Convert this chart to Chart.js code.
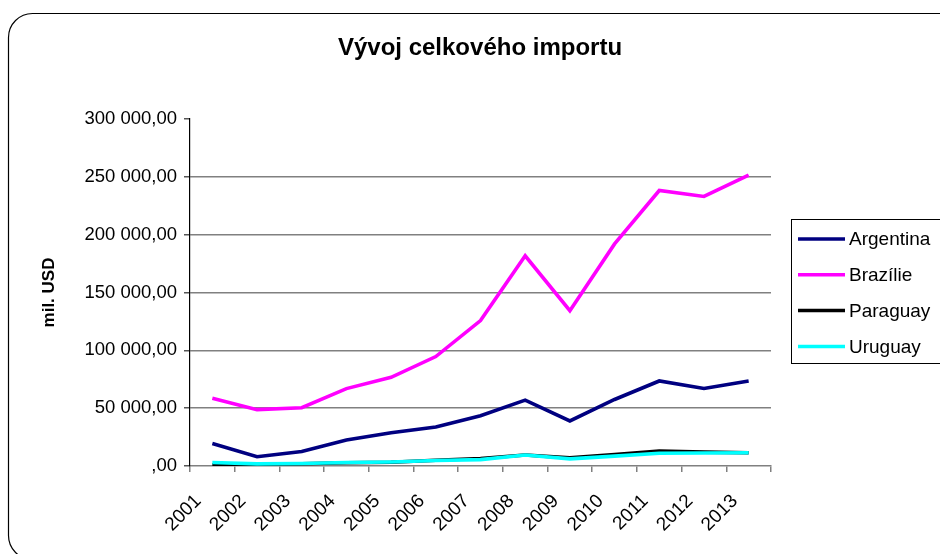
<!DOCTYPE html>
<html>
<head>
<meta charset="utf-8">
<script src="https://cdn.jsdelivr.net/npm/chart.js@4.4.1/dist/chart.umd.min.js"></script>
<style>
  html, body { margin: 0; padding: 0; background: #fff; }
  #wrap { width: 940px; height: 554px; position: relative; }
</style>
</head>
<body>
<div id="wrap"><canvas id="c" width="940" height="554"></canvas></div>
<script>
const years = ['2001','2002','2003','2004','2005','2006','2007','2008','2009','2010','2011','2012','2013'];
const argentina = [19500, 8000, 12500, 22500, 28800, 33700, 43500, 57000, 39000, 57500, 73500, 67000, 73500];
const brazil = [58500, 48700, 50400, 66900, 76700, 94600, 125700, 181700, 134300, 192000, 238200, 233000, 251500];
const paraguay = [1000, 1500, 2000, 2800, 3300, 5000, 6500, 9500, 7000, 10000, 13000, 12000, 11500];
const uruguay = [3000, 1800, 2100, 3000, 3500, 4700, 5500, 9500, 6200, 8500, 11000, 11300, 11500];
const yTicks = [0, 50000, 100000, 150000, 200000, 250000, 300000];

function fmt(v) {
  if (v === 0) return ',00';
  const s = String(Math.round(v)).replace(/\B(?=(\d{3})+(?!\d))/g, ' ');
  return s + ',00';
}

const frame = {
  id: 'frame',
  beforeDraw(chart) {
    const ctx = chart.ctx;
    ctx.save();
    ctx.fillStyle = '#fff';
    ctx.fillRect(0, 0, chart.width, chart.height);
    ctx.strokeStyle = '#000';
    ctx.lineWidth = 1.2;
    ctx.beginPath();
    ctx.roundRect(8.5, 13.5, 980, 546, 24);
    ctx.stroke();
    ctx.restore();
  },
  afterDraw(chart) {
    const ctx = chart.ctx;
    ctx.save();
    ctx.strokeStyle = '#000';
    ctx.lineWidth = 1;
    ctx.strokeRect(791.5, 219.5, 200, 144);
    const ds = chart.data.datasets;
    ctx.font = '19px "Liberation Sans", Arial, sans-serif';
    ctx.textBaseline = 'middle';
    ctx.textAlign = 'left';
    ds.forEach((d, i) => {
      const y = 239 + i * 35.8;
      ctx.strokeStyle = d.borderColor;
      ctx.lineWidth = 3.5;
      ctx.beginPath();
      ctx.moveTo(798, y);
      ctx.lineTo(845, y);
      ctx.stroke();
      ctx.fillStyle = '#000';
      ctx.fillText(d.label, 849, y + 1);
    });
    ctx.restore();
  }
};

new Chart(document.getElementById('c'), {
  type: 'line',
  data: {
    labels: years,
    datasets: [
      { label: 'Argentina', data: argentina, borderColor: '#000080', order: 2 },
      { label: 'Brazílie', data: brazil, borderColor: '#FF00FF', order: 3 },
      { label: 'Paraguay', data: paraguay, borderColor: '#000000', order: 1 },
      { label: 'Uruguay', data: uruguay, borderColor: '#00FFFF', order: 0 }
    ]
  },
  options: {
    responsive: false,
    animation: false,
    events: [],
    layout: { padding: { left: 20, right: 0, top: 0, bottom: 0 } },
    elements: {
      line: { borderWidth: 3.6, tension: 0, fill: false },
      point: { radius: 0 }
    },
    plugins: {
      legend: { display: false },
      tooltip: { enabled: false },
      title: {
        display: true,
        text: 'Vývoj celkového importu',
        color: '#000',
        font: { family: '"Liberation Sans", Arial, sans-serif', size: 24, weight: 'bold', lineHeight: 1 },
        padding: { top: 36, bottom: 59 }
      }
    },
    scales: {
      x: {
        type: 'category',
        offset: true,
        border: { color: '#808080', width: 1.5 },
        grid: { offset: true, drawOnChartArea: false, drawTicks: true, tickLength: 6, color: '#808080', lineWidth: 1.5 },
        ticks: {
          color: '#000',
          font: { family: '"Liberation Sans", Arial, sans-serif', size: 19 },
          minRotation: 45, maxRotation: 45, autoSkip: false, padding: 18, labelOffset: -14
        },
        afterFit(s) { s.height = 88; }
      },
      y: {
        min: 0, max: 300000,
        afterBuildTicks(s) { s.ticks = yTicks.map(v => ({ value: v })); },
        border: { color: '#000', width: 1.2 },
        grid: {
          color: ctx => (ctx.tick && (ctx.tick.value === 300000 || ctx.tick.value === 0)) ? 'rgba(0,0,0,0)' : '#808080',
          tickColor: '#555',
          lineWidth: 1.5,
          tickLength: 6
        },
        ticks: {
          color: '#000',
          font: { family: '"Liberation Sans", Arial, sans-serif', size: 18.5 },
          padding: 7,
          callback: v => fmt(v)
        },
        title: {
          display: true,
          text: 'mil. USD',
          color: '#000',
          font: { family: '"Liberation Sans", Arial, sans-serif', size: 17, weight: 'bold' },
          padding: { top: 19, bottom: 0 }
        },
        afterFit(s) { s.width = 170; }
      },
      yRight: {
        position: 'right',
        display: true,
        min: 0, max: 300000,
        grid: { display: false, drawTicks: false },
        border: { display: false },
        ticks: { display: false },
        afterFit(s) { s.width = 169; }
      }
    }
  },
  plugins: [frame]
});
</script>
</body>
</html>
